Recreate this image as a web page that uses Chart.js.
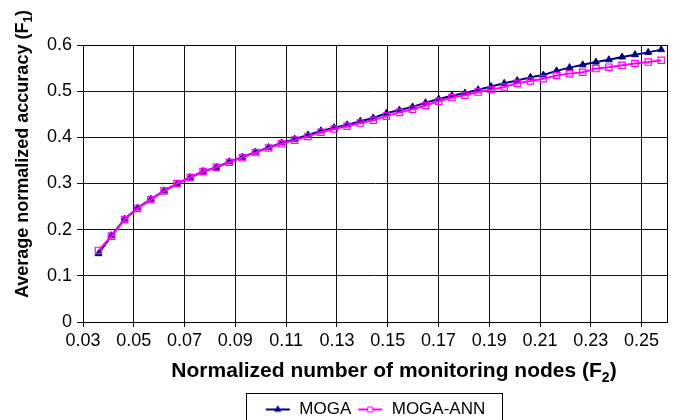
<!DOCTYPE html>
<html>
<head>
<meta charset="utf-8">
<script src="https://cdn.jsdelivr.net/npm/chart.js@4.4.1/dist/chart.umd.min.js"></script>
<style>
  html, body { margin: 0; padding: 0; background: #fff; }
  #wrap { width: 677px; height: 420px; }
</style>
</head>
<body>
<div id="wrap"><canvas id="chart" width="677" height="420"></canvas></div>
<script>
// normalized number of monitoring nodes (x)
const xValues = [
    0.0361, 0.0412, 0.0464, 0.0515, 0.0567, 0.0619, 0.0670, 0.0722, 0.0773, 0.0825,
    0.0876, 0.0928, 0.0979, 0.1031, 0.1082, 0.1134, 0.1186, 0.1237, 0.1289, 0.1340,
    0.1392, 0.1443, 0.1495, 0.1546, 0.1598, 0.1649, 0.1701, 0.1753, 0.1804, 0.1856,
    0.1907, 0.1959, 0.2010, 0.2062, 0.2113, 0.2165, 0.2216, 0.2268, 0.2320, 0.2371,
    0.2423, 0.2474, 0.2526, 0.2577
];
// average normalized accuracy, MOGA
const mogaValues = [
    0.148, 0.187, 0.223, 0.247, 0.266, 0.284, 0.299, 0.313, 0.326, 0.335,
    0.347, 0.357, 0.368, 0.378, 0.388, 0.396, 0.405, 0.414, 0.421, 0.427,
    0.435, 0.442, 0.452, 0.459, 0.466, 0.475, 0.483, 0.490, 0.496, 0.503,
    0.510, 0.517, 0.523, 0.530, 0.535, 0.544, 0.551, 0.557, 0.563, 0.568,
    0.574, 0.579, 0.584, 0.590
];
// average normalized accuracy, MOGA-ANN
const mogaAnnValues = [
    0.155, 0.186, 0.222, 0.246, 0.265, 0.284, 0.300, 0.313, 0.326, 0.335,
    0.346, 0.356, 0.367, 0.377, 0.386, 0.394, 0.402, 0.411, 0.418, 0.424,
    0.431, 0.437, 0.446, 0.454, 0.461, 0.469, 0.478, 0.486, 0.491, 0.498,
    0.503, 0.509, 0.517, 0.522, 0.527, 0.534, 0.538, 0.541, 0.549, 0.552,
    0.556, 0.560, 0.563, 0.567
];
const xTicks = [0.03, 0.05, 0.07, 0.09, 0.11, 0.13, 0.15, 0.17, 0.19, 0.21, 0.23, 0.25];
const yTicks = [0, 0.1, 0.2, 0.3, 0.4, 0.5, 0.6];

const NAVY = '#000080';
const PINK = '#ff00ff';
const FONT = '"Liberation Sans", Arial, "DejaVu Sans", sans-serif';

// small line+marker sample for the legend
function legendSample(color, style, fill) {
    const c = document.createElement('canvas');
    c.width = 26;
    c.height = 12;
    const g = c.getContext('2d');
    g.strokeStyle = color;
    g.lineWidth = 2;
    g.beginPath();
    g.moveTo(1, 6);
    g.lineTo(25, 6);
    g.stroke();
    g.fillStyle = fill;
    g.lineWidth = 1;
    Chart.helpers.drawPoint(g, { pointStyle: style, radius: 3.5, borderWidth: 1 }, 13, 6);
    return c;
}

// axis titles with subscripts, and the boxes round plot and legend
const decorPlugin = {
    id: 'decor',
    afterDraw(chart) {
        const ctx = chart.ctx;
        const area = chart.chartArea;
        ctx.save();
        ctx.strokeStyle = '#000';
        ctx.lineWidth = 1;
        ctx.strokeRect(Math.round(area.left) + 0.5, Math.round(area.top) + 0.5,
            Math.round(area.right - area.left), Math.round(area.bottom - area.top));

        // legend border
        const boxes = chart.legend.legendHitBoxes;
        if (boxes && boxes.length) {
            const first = boxes[0];
            const last = boxes[boxes.length - 1];
            const left = Math.round(first.left - 19) + 0.5;
            const right = Math.round(last.left + last.width + 17) + 0.5;
            const top = Math.round(first.top + first.height / 2 - 17) + 0.5;
            ctx.strokeRect(left, top, right - left, 40);
        }

        ctx.fillStyle = '#000';
        ctx.textBaseline = 'alphabetic';

        // x title
        const xMain = 'Normalized number of monitoring nodes (F';
        ctx.font = 'bold 21px ' + FONT;
        const w1 = ctx.measureText(xMain).width;
        ctx.font = 'bold 14px ' + FONT;
        const w2 = ctx.measureText('2').width;
        ctx.font = 'bold 21px ' + FONT;
        const w3 = ctx.measureText(')').width;
        let x0 = 394 - (w1 + w2 + w3) / 2;
        const yb = 377;
        ctx.fillText(xMain, x0, yb);
        ctx.font = 'bold 14px ' + FONT;
        ctx.fillText('2', x0 + w1, yb + 5);
        ctx.font = 'bold 21px ' + FONT;
        ctx.fillText(')', x0 + w1 + w2, yb);

        // y title, rotated
        ctx.translate(28, 154);
        ctx.rotate(-Math.PI / 2);
        const yMain = 'Average normalized accuracy (F';
        ctx.font = 'bold 18px ' + FONT;
        const v1 = ctx.measureText(yMain).width;
        ctx.font = 'bold 12px ' + FONT;
        const v2 = ctx.measureText('1').width;
        ctx.font = 'bold 18px ' + FONT;
        const v3 = ctx.measureText(')').width;
        const s0 = -(v1 + v2 + v3) / 2;
        ctx.fillText(yMain, s0, 0);
        ctx.font = 'bold 12px ' + FONT;
        ctx.fillText('1', s0 + v1, 4);
        ctx.font = 'bold 18px ' + FONT;
        ctx.fillText(')', s0 + v1 + v2, 0);
        ctx.restore();
    }
};

const ctx = document.getElementById('chart').getContext('2d');

new Chart(ctx, {
    type: 'line',
    data: {
        datasets: [
            {
                label: 'MOGA',
                data: xValues.map((x, i) => ({ x: x, y: mogaValues[i] })),
                borderColor: NAVY,
                backgroundColor: NAVY,
                borderWidth: 2,
                pointStyle: 'triangle',
                pointRadius: 4,
                pointBorderWidth: 1,
                pointBackgroundColor: NAVY,
                pointBorderColor: NAVY,
                order: 1
            },
            {
                label: 'MOGA-ANN',
                data: xValues.map((x, i) => ({ x: x, y: mogaAnnValues[i] })),
                borderColor: PINK,
                backgroundColor: PINK,
                borderWidth: 2,
                pointStyle: 'rect',
                pointRadius: 4.5,
                pointBorderWidth: 1.2,
                pointBackgroundColor: 'rgba(255,255,255,0)',
                pointBorderColor: PINK,
                order: 0
            }
        ]
    },
    options: {
        responsive: false,
        animation: false,
        // legend is 33px tall (17 + 6 + 10); bottom padding pulls it down a bit
        layout: { padding: { left: 0, right: 10, top: 45, bottom: -8 } },
        scales: {
            x: {
                type: 'linear',
                min: 0.03,
                max: 0.26,
                afterBuildTicks: function(scale) {
                    scale.ticks = xTicks.map(v => ({ value: v }));
                },
                afterFit: function(scale) {
                    scale.height = 73;
                },
                grid: { color: '#111', lineWidth: 1, tickLength: 5, drawTicks: true },
                border: { color: '#000', width: 1 },
                ticks: {
                    color: '#000',
                    font: { family: FONT, size: 18 },
                    padding: 3,
                    maxRotation: 0,
                    autoSkip: false,
                    callback: v => v.toFixed(2)
                }
            },
            y: {
                type: 'linear',
                min: 0,
                max: 0.6,
                afterBuildTicks: function(scale) {
                    scale.ticks = yTicks.map(v => ({ value: v }));
                },
                afterFit: function(scale) {
                    scale.width = 83;
                },
                grid: { color: '#111', lineWidth: 1, tickLength: 6, drawTicks: true },
                border: { color: '#000', width: 1 },
                ticks: {
                    color: '#000',
                    font: { family: FONT, size: 18 },
                    padding: 5,
                    callback: v => (v === 0 ? '0' : v.toFixed(1))
                }
            }
        },
        plugins: {
            legend: {
                position: 'bottom',
                fullSize: false,
                labels: {
                    color: '#000',
                    font: { family: FONT, size: 17 },
                    usePointStyle: true,
                    pointStyleWidth: 26,
                    padding: 6,
                    sort: (a, b) => a.datasetIndex - b.datasetIndex,
                    generateLabels: function(chart) {
                        return [
                            { text: 'MOGA', pointStyle: legendSample(NAVY, 'triangle', NAVY),
                              fillStyle: NAVY, strokeStyle: NAVY, lineWidth: 0, datasetIndex: 0, hidden: false },
                            { text: 'MOGA-ANN', pointStyle: legendSample(PINK, 'rect', '#fff'),
                              fillStyle: PINK, strokeStyle: PINK, lineWidth: 0, datasetIndex: 1, hidden: false }
                        ];
                    }
                }
            },
            tooltip: { enabled: false }
        }
    },
    plugins: [decorPlugin]
});
</script>
</body>
</html>
